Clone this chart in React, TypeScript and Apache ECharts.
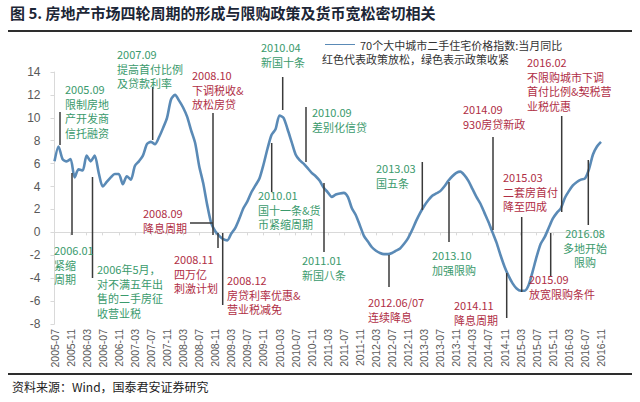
import React, { useEffect, useRef } from "react";
import * as echarts from "echarts";

// 70个大中城市二手住宅价格指数:当月同比 (%), monthly from 2005-07 to 2016-11
const yoyValues: number[] = [
  6.2, 7.5, 6.4, 6.2, 6.4, 4.8, 5.5, 5.4, 6.7, 6.2,
  6.7, 5.2, 4.0, 4.4, 4.8, 5.1, 5.1, 4.2, 4.9, 4.6,
  5.8, 6.2, 6.7, 7.7, 7.9, 7.7, 8.3, 9.1, 10.0, 11.6,
  12.0, 11.5, 10.9, 10.1, 8.9, 7.8, 5.8, 4.3, 2.4, 0.8,
  0.1, -0.3, -0.6, -0.7, -0.1, 0.4, 1.2, 2.1, 2.7, 3.5,
  4.1, 4.7, 5.9, 7.3, 8.5, 9.0, 10.2, 10.0, 9.0, 7.9,
  6.8, 6.3, 6.0, 5.6, 5.2, 4.9, 4.5, 3.9, 3.5, 3.1,
  3.3, 3.4, 3.45, 3.1, 2.1, 1.5, 0.6, -0.3, -0.8, -1.3,
  -1.6, -1.8, -1.9, -1.9, -1.8, -1.6, -1.4, -1.0, -0.5, 0.2,
  1.0, 1.7, 2.3, 2.8, 3.2, 3.4, 3.6, 4.0, 4.5, 4.9,
  5.2, 5.3, 5.0, 4.5, 3.8, 3.1, 2.5, 1.7, 0.9, 0.0,
  -0.9, -2.0, -3.0, -3.8, -4.45, -4.9, -5.1, -5.1, -4.6, -3.4,
  -2.1, -1.0, -0.4, 0.4, 1.2, 1.7, 2.1, 3.0, 3.6, 4.1,
  4.4, 4.6, 4.7, 5.5, 6.8, 7.5, 7.9,
];

const startYear = 2005;
const startMonth = 7;
const months: string[] = yoyValues.map((_, i) => {
  const t = startMonth - 1 + i;
  const y = startYear + Math.floor(t / 12);
  const m = (t % 12) + 1;
  return `${y}-${String(m).padStart(2, "0")}`;
});

const yTicks = { min: -8, max: 14, interval: 2 };

const seriesName = "70个大中城市二手住宅价格指数:当月同比";
const legendNote = "红色代表政策放松，绿色表示政策收紧";
const titleText = "图 5. 房地产市场四轮周期的形成与限购政策及货币宽松密切相关";
const sourceText = "资料来源：Wind，国泰君安证券研究";

const GREEN = "#3a9a6c";
const RED = "#b02e45";

type Note = { lines: string[]; color: string; x: number; y: number; align?: string };
const notes: Note[] = [
  { lines: ["2005.09", "限制房地", "产开发商", "信托融资"], color: GREEN, x: 65, y: 82 },
  { lines: ["2006.01", "紧缩", "周期"], color: GREEN, x: 54, y: 243 },
  { lines: ["2006年5月，", "对不满五年出", "售的二手房征", "收营业税"], color: GREEN, x: 97, y: 262 },
  { lines: ["2007.09", "提高首付比例", "及贷款利率"], color: GREEN, x: 117, y: 47 },
  { lines: ["2008.10", "下调税收&", "放松房贷"], color: RED, x: 192, y: 68 },
  { lines: ["2008.09", "降息周期"], color: RED, x: 143, y: 206 },
  { lines: ["2008.11", "四万亿", "刺激计划"], color: RED, x: 174, y: 252 },
  { lines: ["2008.12", "房贷利率优惠&", "营业税减免"], color: RED, x: 227, y: 273 },
  { lines: ["2010.04", "新国十条"], color: GREEN, x: 261, y: 40 },
  { lines: ["2010.09", "差别化信贷"], color: GREEN, x: 312, y: 105 },
  { lines: ["2010.01", "国十一条&货", "币紧缩周期"], color: GREEN, x: 258, y: 188 },
  { lines: ["2011.01", "新国八条"], color: GREEN, x: 302, y: 253 },
  { lines: ["2012.06/07", "连续降息"], color: RED, x: 368, y: 295 },
  { lines: ["2013.03", "国五条"], color: GREEN, x: 376, y: 161 },
  { lines: ["2013.10", "加强限购"], color: GREEN, x: 432, y: 248 },
  { lines: ["2014.09", "930房贷新政"], color: RED, x: 463, y: 102 },
  { lines: ["2014.11", "降息周期"], color: RED, x: 454, y: 298 },
  { lines: ["2015.03", "二套房首付", "降至四成"], color: RED, x: 503, y: 170 },
  { lines: ["2015.09", "放宽限购条件"], color: RED, x: 529, y: 272 },
  { lines: ["2016.02", "不限购城市下调", "首付比例&契税营", "业税优惠"], color: RED, x: 527, y: 55 },
  { lines: ["2016.08", "多地开始", "限购"], color: GREEN, x: 585, y: 226, align: "center" },
];

const leaders: [number, number, number, number][] = [
  [60, 112, 60, 145],
  [72, 173, 72, 235],
  [92.5, 177, 92.5, 278],
  [152.7, 87, 152.7, 140],
  [213, 113, 213, 235],
  [190, 223, 213, 223],
  [218, 233, 218, 248],
  [222.7, 233, 222.7, 305],
  [282.7, 77, 282.7, 110],
  [306, 107, 306, 162],
  [271.7, 143, 271.7, 192],
  [324, 183, 324, 252],
  [389, 255, 389, 287],
  [422.3, 162, 422.3, 210],
  [449, 182, 449, 242],
  [493, 137, 493, 230],
  [506.7, 273, 506.7, 318],
  [521.7, 217, 521.7, 292],
  [550.7, 233, 550.7, 276],
  [561.7, 116, 561.7, 212],
  [588.3, 160, 588.3, 225],
];

const CJK = '"Noto Sans CJK SC", "Noto Sans", sans-serif';

export default function App() {
  const ref = useRef<HTMLDivElement>(null);
  useEffect(() => {
    if (!ref.current) return;
    const chart = echarts.init(ref.current, undefined, { renderer: "svg" });
    const graphic: any[] = [];
    graphic.push({
      type: "text",
      left: 10,
      top: 5,
      style: { text: titleText, fill: "#1c2636", font: `bold 15px ${CJK}` },
    });
    graphic.push({ type: "rect", shape: { x: 8, y: 30, width: 624, height: 2 }, style: { fill: "#2e2e2e" } });
    graphic.push({ type: "rect", shape: { x: 8, y: 373, width: 624, height: 2 }, style: { fill: "#2e2e2e" } });
    graphic.push({
      type: "text",
      x: 12,
      y: 386,
      style: { text: sourceText, fill: "#222", font: `12px ${CJK}`, textVerticalAlign: "middle" },
    });
    graphic.push({
      type: "text",
      x: 322,
      y: 59,
      style: { text: legendNote, fill: "#333", font: `11px ${CJK}`, textVerticalAlign: "middle" },
    });
    leaders.forEach(([x1, y1, x2, y2]) => {
      graphic.push({
        type: "line",
        shape: { x1, y1, x2, y2 },
        style: { stroke: "#3a3a3a", lineWidth: 1.5 },
        z: 10,
      });
    });
    notes.forEach((n) => {
      graphic.push({
        type: "text",
        x: n.x,
        y: n.y,
        z: 11,
        style: {
          text: n.lines.join("\n"),
          fill: n.color,
          font: `11px ${CJK}`,
          lineHeight: 14.5,
          textAlign: n.align ?? "left",
          textVerticalAlign: "top",
        },
      });
    });

    chart.setOption({
      animation: false,
      backgroundColor: "#ffffff",
      grid: { left: 54.5, right: 39, top: 72, bottom: 78, containLabel: false },
      legend: {
        left: 320,
        top: 34,
        itemWidth: 30,
        itemHeight: 10,
        itemGap: 5,
        textStyle: { fontSize: 11, color: "#333", fontFamily: CJK },
        data: [{ name: seriesName, icon: "path://M0,4.5L30,4.5L30,5.5L0,5.5Z" }],
      },
      xAxis: [
        {
          type: "category",
          data: months,
          boundaryGap: false,
          position: "bottom",
          axisLine: { show: false, onZero: false },
          axisTick: { show: false },
          axisLabel: {
            interval: 3,
            rotate: 90,
            fontSize: 10.5,
            color: "#595959",
            margin: 5,
            fontFamily: "Liberation Sans, Arial, sans-serif",
          },
          splitLine: { show: false },
        },
        {
          type: "category",
          data: months,
          boundaryGap: false,
          position: "bottom",
          axisLine: { show: true, onZero: true, lineStyle: { color: "#d9d9d9", width: 1 } },
          axisTick: { show: true, interval: 3, length: 3, lineStyle: { color: "#d9d9d9" } },
          axisLabel: { show: false },
          splitLine: { show: false },
        },
      ],
      yAxis: {
        type: "value",
        min: yTicks.min,
        max: yTicks.max,
        interval: yTicks.interval,
        axisLine: { show: true, onZero: false, lineStyle: { color: "#d9d9d9" } },
        axisTick: { show: true, length: 4, lineStyle: { color: "#d9d9d9" } },
        axisLabel: {
          fontSize: 12,
          color: "#595959",
          margin: 14,
          fontFamily: "Liberation Sans, Arial, sans-serif",
        },
        splitLine: { show: false },
      },
      series: [
        {
          name: seriesName,
          type: "line",
          xAxisIndex: 0,
          data: yoyValues,
          symbol: "none",
          smooth: 0.25,
          lineStyle: { color: "#5a8ab6", width: 2.6 },
          itemStyle: { color: "#5a8ab6" },
        },
      ],
      graphic,
    });
    return () => chart.dispose();
  }, []);
  return (
    <div
      ref={ref}
      style={{ position: "absolute", left: 0, top: 0, width: 640, height: 402, background: "#fff" }}
    />
  );
}
